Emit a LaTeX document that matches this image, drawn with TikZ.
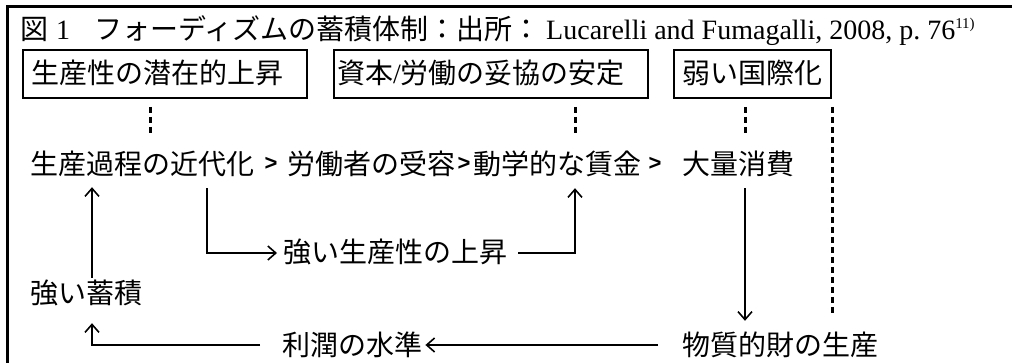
\documentclass[tikz,border=0pt]{standalone}
\usepackage{fontspec}
\setmainfont{Liberation Serif}
\newfontfamily\jp{Noto Sans CJK JP}
\newfontfamily\gt{Liberation Sans}
\usetikzlibrary{arrows.meta}
\tikzset{
  txt/.style={inner sep=0pt, font=\jp\fontsize{28}{28}\selectfont, text height=24pt, text depth=4pt, anchor=west},
  gt/.style={inner sep=0pt, font=\gt\bfseries\fontsize{22}{22}\selectfont, anchor=center},
  boxnode/.style={draw, line width=2pt, inner ysep=10pt, anchor=north west, font=\jp\fontsize{28}{28}\selectfont, text height=24pt, text depth=4pt},
  arr/.style={line width=1.8pt, -{Straight Barb[length=8pt,width=14pt,line width=1.6pt]}},
  dots/.style={line width=3pt, dash pattern=on 6pt off 4pt},
}
\begin{document}
\begin{tikzpicture}[x=1pt,y=-1pt]
\useasboundingbox (0,0) rectangle (1017,363);
% frame
\draw[line width=3pt] (7,363) -- (7,7) -- (1012,7);
% title
\node[anchor=base west, inner sep=0pt, font=\fontsize{28}{28}\selectfont] (title) at (20,40)
  {{\jp 図}\hspace{8pt}1\hspace{24pt}{\jp フォーディズムの蓄積体制：出所：}\hspace{6pt}Lucarelli and Fumagalli, 2008, p.~76\raisebox{11pt}{\fontsize{15}{15}\selectfont 11)}};
% boxes
\node[boxnode, text width=268pt, inner xsep=8pt, align=left] (b1) at (22,49) {生産性の潜在的上昇};
\node[boxnode, text width=308pt, inner xsep=3pt, align=left] (b2) at (333,49) {資本{\rmfamily/}労働の妥協の安定};
\node[boxnode, text width=141pt, inner xsep=8pt, align=center] (b3) at (673,49) {弱い国際化};
% row 2
\node[txt] (n1) at (30,165) {生産過程の近代化};
\node[gt] (g1) at (271,164) {>};
\node[txt] (n2) at (287,165) {労働者の受容};
\node[gt] (g2) at (464,164) {>};
\node[txt] (n3) at (473,165) {動学的な賃金};
\node[gt] (g3) at (655,164) {>};
\node[txt] (n4) at (682,165) {大量消費};
% lower rows
\node[txt] (n6) at (283,253) {強い生産性の上昇};
\node[txt] (n5) at (30,294) {強い蓄積};
\node[txt] (n8) at (282,345) {利潤の水準};
\node[txt] (n9) at (682,345) {物質的財の生産};
% x guides
\coordinate (xa) at (92,0);
\coordinate (xb) at (207,0);
\coordinate (xc) at (150,0);
\coordinate (xd) at (575,0);
\coordinate (xe) at (745,0);
% dotted links
\draw[dots, shorten <=8pt, shorten >=16pt] (b1.south -| xc) -- (n1.north -| xc);
\draw[dots, shorten <=8pt, shorten >=16pt] (b2.south -| xd) -- (n3.north -| xd);
\draw[dots, shorten <=8pt, shorten >=16pt] (b3.south -| xe) -- (n4.north -| xe);
\draw[dots, shorten <=8pt, shorten >=17pt] (b3.south east) -- (b3.south east |- n9.north);
% arrows
\draw[arr, shorten <=2pt, shorten >=8pt] (n5.north -| xa) -- (n1.south -| xa);
\draw[arr, shorten <=9pt, shorten >=6pt] (n1.south -| xb) |- (n6.west);
\draw[arr, shorten <=11pt, shorten >=9pt] (n6.east) -| (n3.south -| xd);
\draw[arr, shorten <=9pt, shorten >=10pt] (n4.south -| xe) -- (n9.north -| xe);
\draw[arr, shorten <=24pt, shorten >=3pt] (n9.west) -- (n8.east);
\draw[arr, shorten <=22pt, shorten >=15pt] (n8.west) -| (n5.south -| xa);
\end{tikzpicture}
\end{document}
